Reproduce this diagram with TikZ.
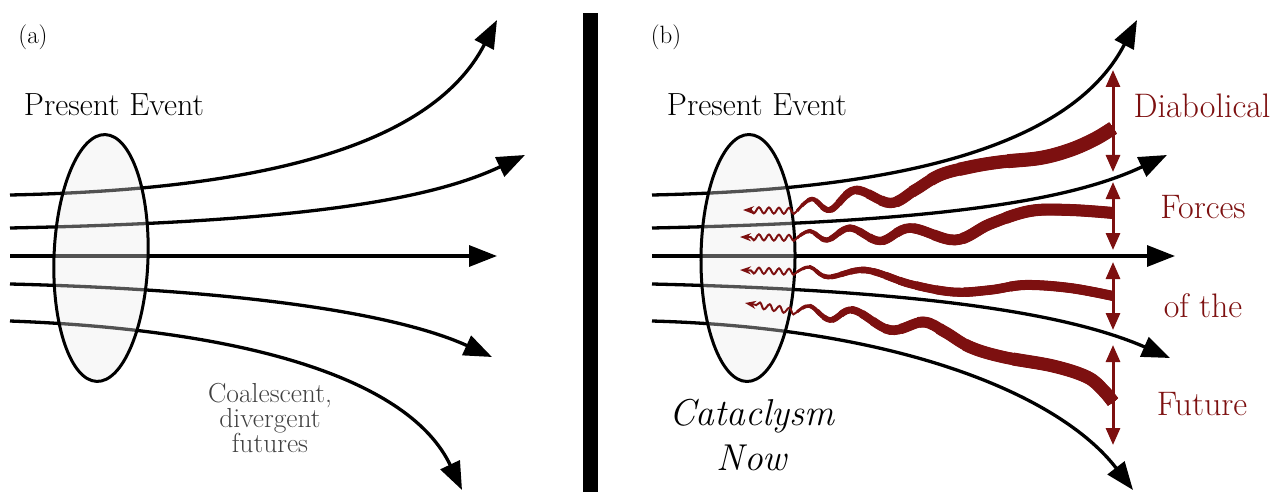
\documentclass[tikz,border=0pt]{standalone}
\usepackage{tikz}
\usetikzlibrary{arrows.meta,shapes.geometric,decorations.pathmorphing}
\definecolor{FRed}{HTML}{7D1010}
\definecolor{CGray}{HTML}{404040}
% tapered ribbon: #1 max width, #2 path length, #3 points (thick end first)
\newcommand{\forceribbon}[3]{%
  \draw[FRed,line width=2.2pt] plot[smooth,tension=0.6] coordinates {#3};
  \foreach \k in {1,...,16}{%
    \pgfmathsetmacro\rw{2.2+(#1-2.2)*\k/16}%
    \pgfmathsetmacro\rd{#2*(1-(\k-0.5)/16)^(1/3)}%
    \draw[FRed,line width=\rw pt,dash pattern=on \rd pt off 3000pt]
      plot[smooth,tension=0.6] coordinates {#3};}}

\begin{document}
\begin{tikzpicture}[x=1pt,y=-1pt,
  fut/.style={-{Triangle[length=28pt,width=21pt]},line width=3.3pt},
  evt/.style={ellipse,draw,line width=3pt,fill=gray!15,fill opacity=0.35,
    minimum width=94pt,minimum height=247pt,inner sep=0pt},
  tag/.style={font=\fontsize{25}{28}\selectfont,anchor=base,inner sep=0pt},
  lbl/.style={font=\fontsize{32}{36}\selectfont,anchor=base,inner sep=0pt},
  frc/.style={text=FRed,font=\fontsize{34}{38}\selectfont,anchor=base,inner sep=0pt},
  dbl/.style={{Triangle[length=17pt,width=14pt]}-{Triangle[length=17pt,width=14pt]},
    line width=3pt,draw=FRed},
  wig/.style={draw=FRed,line width=2pt,decorate,
    decoration={snake,amplitude=3pt,segment length=10pt,post length=7pt},
    -{Stealth[length=11pt,width=8pt]}}
]
\useasboundingbox (0,0) rectangle (1272,492);

% (a) coalescent futures
\coordinate (a1s) at (10,195); \coordinate (a1e) at (497,20);
\coordinate (a2s) at (10,228); \coordinate (a2e) at (525,155);
\coordinate (a3s) at (10,256); \coordinate (a3e) at (497,256);
\coordinate (a4s) at (10,284); \coordinate (a4e) at (492,357);
\coordinate (a5s) at (10,321); \coordinate (a5e) at (462,490);
\draw[fut] (a1s) .. controls (250,190) and (430,150) .. (a1e);
\draw[fut] (a2s) .. controls (300,222) and (430,200) .. (a2e);
\draw[fut] (a3s) -- (a3e);
\draw[fut] (a4s) .. controls (250,290) and (400,315) .. (a4e);
\draw[fut] (a5s) .. controls (250,330) and (410,380) .. (a5e);
\node[evt,rotate=-2] (evA) at (101,258) {};
\node[tag] (tagA) at (33,44) {(a)};
\node[lbl] (peA) at (114,116) {Present Event};
\node[text=CGray,font=\fontsize{27.5}{25}\selectfont,align=center,anchor=north,inner sep=0pt]
  (coal) at (270,383) {Coalescent,\\divergent\\futures};

% divider
\fill (583,13) rectangle (598,492);

% (b) cataclysm now
\coordinate (b1s) at (652,195); \coordinate (b1e) at (1137,20);
\coordinate (b2s) at (652,228); \coordinate (b2e) at (1167,155);
\coordinate (b3s) at (652,256); \coordinate (b3e) at (1175,256);
\coordinate (b4s) at (652,284); \coordinate (b4e) at (1170,358);
\coordinate (b5s) at (652,321); \coordinate (b5e) at (1133,490);
\draw[fut] (b1s) .. controls (890,190) and (1070,150) .. (b1e);
\draw[fut] (b2s) .. controls (942,222) and (1072,200) .. (b2e);
\draw[fut] (b3s) -- (b3e);
\draw[fut] (b4s) .. controls (900,290) and (1060,310) .. (b4e);
\draw[fut] (b5s) .. controls (900,328) and (1060,395) .. (b5e);
\node[evt,rotate=-0.5] (evB) at (748,258) {};
\node[tag] (tagB) at (666,44) {(b)};
\node[lbl] (peB) at (757,116) {Present Event};
\node[font=\fontsize{37.4}{45}\selectfont\itshape,align=center,anchor=north,inner sep=0pt]
  (cat) at (752,399) {Cataclysm\\Now};

% backward-travelling forces
\forceribbon{14}{355}{(1113,128) (1095,139) (1070,150) (1040,158) (1000,162) (970,167)
  (940,175) (915,190) (890,203) (855,190) (830,210) (812,199) (797,211)}
\forceribbon{12}{345}{(1113,213) (1070,210) (1030,211) (990,224) (955,240) (910,228)
  (880,241) (850,228) (827,240) (810,231) (797,238)}
\forceribbon{10}{330}{(1113,296) (1070,288) (1025,285) (990,290) (953,292) (910,284)
  (865,270) (828,277) (810,267) (797,272)}
\forceribbon{13}{358}{(1113,402) (1103,390) (1087,377) (1053,366) (1003,357) (970,347)
  (945,332) (923,322) (890,330) (853,310) (830,320) (810,306) (797,312)}
\foreach \n/\ws/\tx/\ty in {1/211/743/210,2/238/740/237,3/272/740/270,4/312/745/303}{
  \coordinate (w\n) at (797,\ws);
  \coordinate (t\n) at (\tx,\ty);
  \draw[wig] (w\n) -- (t\n);}
\foreach \n/\t/\b in {1/70/172,2/182/250,3/262/330,4/345/445}{
  \coordinate (ft\n) at (1113,\t); \coordinate (fb\n) at (1113,\b);
  \draw[dbl] (ft\n) -- (fb\n);}
\node[frc] (dia) at (1202,118) {Diabolical};
\node[frc] (for) at (1203,218) {Forces};
\node[frc] (oft) at (1203,317) {of the};
\node[frc] (fut) at (1202,415) {Future};
\end{tikzpicture}
\end{document}
